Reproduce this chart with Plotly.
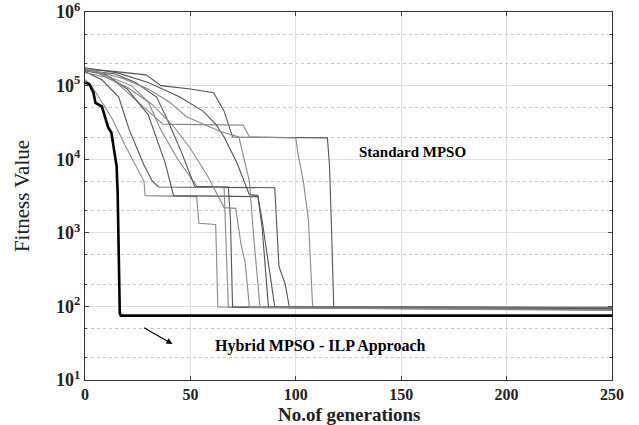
import plotly.graph_objects as go

# ---- data (generation, fitness) for each run ----
run1_gen = [0, 10, 29, 36, 50, 61, 66, 70, 115, 116, 117, 118, 250]
run1_fit = [165000, 160000, 140000, 100000, 90000, 80000, 45000, 20000, 19500, 8000, 1000, 96, 93]

run2_gen = [0, 6, 15, 25, 37, 75, 78, 100, 101, 103.5, 106, 108, 250]
run2_fit = [170000, 150000, 110000, 60000, 30000, 29000, 20000, 19500, 12000, 5200, 1500, 97, 95]

run3_gen = [0, 8, 16, 21, 28, 32, 35, 90, 91, 92, 95, 97, 250]
run3_fit = [155000, 120000, 70000, 25000, 8300, 5000, 4200, 4100, 1200, 350, 200, 95, 90]

run4_gen = [0, 3, 8, 13, 19, 24, 28, 28.5, 53, 54, 62, 63, 250]
run4_fit = [120000, 100000, 60000, 35000, 15500, 8300, 5000, 3200, 3100, 1350, 1300, 98, 95]

run5_gen = [0, 10, 20, 30, 38, 42, 82, 84, 86, 88, 90, 250]
run5_fit = [160000, 140000, 90000, 40000, 9000, 3200, 3100, 1500, 600, 250, 100, 96]

run6_gen = [0, 12, 22, 30, 36, 44, 53, 66, 67, 68, 250]
run6_fit = [170000, 130000, 100000, 60000, 25000, 10000, 4300, 4100, 600, 97, 88]

run7_gen = [0, 14, 24, 34, 40, 46, 52, 68, 69, 70, 250]
run7_fit = [160000, 145000, 110000, 70000, 30000, 12000, 4300, 4200, 1500, 98, 93]

run8_gen = [0, 10, 20, 32, 42, 50, 58, 66, 71.5, 74, 76, 78, 250]
run8_fit = [150000, 130000, 95000, 55000, 28000, 14000, 6000, 2200, 2150, 700, 390, 97, 90]

run9_gen = [0, 15, 30, 45, 56, 62, 66, 72, 78, 82, 84, 87, 250]
run9_fit = [175000, 150000, 110000, 70000, 45000, 30000, 20000, 9000, 3300, 3200, 1200, 100, 96]

run10_gen = [0, 8, 18, 30, 40, 48, 56, 64, 73, 78, 80, 83, 250]
run10_fit = [160000, 150000, 125000, 90000, 60000, 38000, 30000, 24000, 20000, 5000, 900, 99, 98]

hybrid_gen = [0, 2, 4, 5, 8, 11, 12.5, 14, 15, 15.5, 16, 16.5, 17, 250]
hybrid_fit = [110000, 105000, 80000, 58000, 52000, 27000, 23000, 13000, 8000, 3500, 800, 81, 75, 75]

gray_runs = [
    (run1_gen, run1_fit), (run2_gen, run2_fit), (run3_gen, run3_fit),
    (run4_gen, run4_fit), (run5_gen, run5_fit), (run6_gen, run6_fit),
    (run7_gen, run7_fit), (run8_gen, run8_fit), (run9_gen, run9_fit),
    (run10_gen, run10_fit),
]
gray_colors = ["#555555", "#8a8a8a", "#555555", "#8a8a8a", "#555555",
               "#8a8a8a", "#555555", "#8a8a8a", "#555555", "#8a8a8a"]

x_ticks = [0, 50, 100, 150, 200, 250]
y_ticks = [10, 100, 1000, 10000, 100000, 1000000]
y_tick_text = ["10<sup>1</sup>", "10<sup>2</sup>", "10<sup>3</sup>",
               "10<sup>4</sup>", "10<sup>5</sup>", "10<sup>6</sup>"]

fig = go.Figure()
for (g, f), c in zip(gray_runs, gray_colors):
    fig.add_trace(go.Scatter(x=g, y=f, mode="lines",
                             line=dict(color=c, width=1.1),
                             showlegend=False, hoverinfo="skip"))
fig.add_trace(go.Scatter(x=hybrid_gen, y=hybrid_fit, mode="lines",
                         line=dict(color="black", width=2.6),
                         showlegend=False, hoverinfo="skip"))

serif = "Liberation Serif, Times New Roman, serif"

fig.add_annotation(x=155.5, y=4.10, text="<b>Standard MPSO</b>", showarrow=False,
                   font=dict(family=serif, size=15, color="black"))
fig.add_annotation(x=111.5, y=1.46, text="<b>Hybrid MPSO - ILP Approach</b>",
                   showarrow=False, font=dict(family=serif, size=16, color="black"))
fig.add_annotation(x=41.5, y=1.49, ax=-30, ay=-17, text="", showarrow=True,
                   arrowhead=2, arrowsize=1.1, arrowwidth=1.1, arrowcolor="black")
# x-axis title placed as an annotation so it sits just under the tick labels
fig.add_annotation(x=0.5, xref="paper", y=0, yref="paper", yanchor="top", yshift=-22,
                   text="<b>No.of generations</b>", showarrow=False,
                   font=dict(family=serif, size=19, color="#222222"))

fig.update_xaxes(range=[0, 250], tickvals=x_ticks, ticks="inside", ticklen=4,
                 mirror="allticks", showline=True, linecolor="#333333", linewidth=1,
                 showgrid=True, gridcolor="#e0e0e0", gridwidth=1, zeroline=False,
                 ticklabeloverflow="allow", automargin=False, ticklabelstandoff=0,
                 tickfont=dict(family=serif, size=16, color="#222222", weight="bold"))
fig.update_yaxes(type="log", range=[1, 6], tickvals=y_ticks, ticktext=y_tick_text,
                 ticks="inside", ticklen=4, mirror="allticks", showline=True,
                 linecolor="#333333", linewidth=1, showgrid=True, gridcolor="#e0e0e0",
                 gridwidth=1, zeroline=False, ticklabeloverflow="allow", automargin=False,
                 minor=dict(ticks="inside", ticklen=2, showgrid=True,
                            gridcolor="#c8c8c8", griddash="dot", gridwidth=1),
                 tickfont=dict(family=serif, size=18, color="#222222", weight="bold"),
                 title=dict(text="Fitness Value", standoff=20,
                            font=dict(family=serif, size=21, color="#222222")))

fig.update_layout(width=639, height=425, plot_bgcolor="white", paper_bgcolor="white",
                  margin=dict(l=85, r=27, t=12, b=45))
fig.write_html("out.html", config={"displayModeBar": False},
               post_script="document.body.style.margin='0';")
